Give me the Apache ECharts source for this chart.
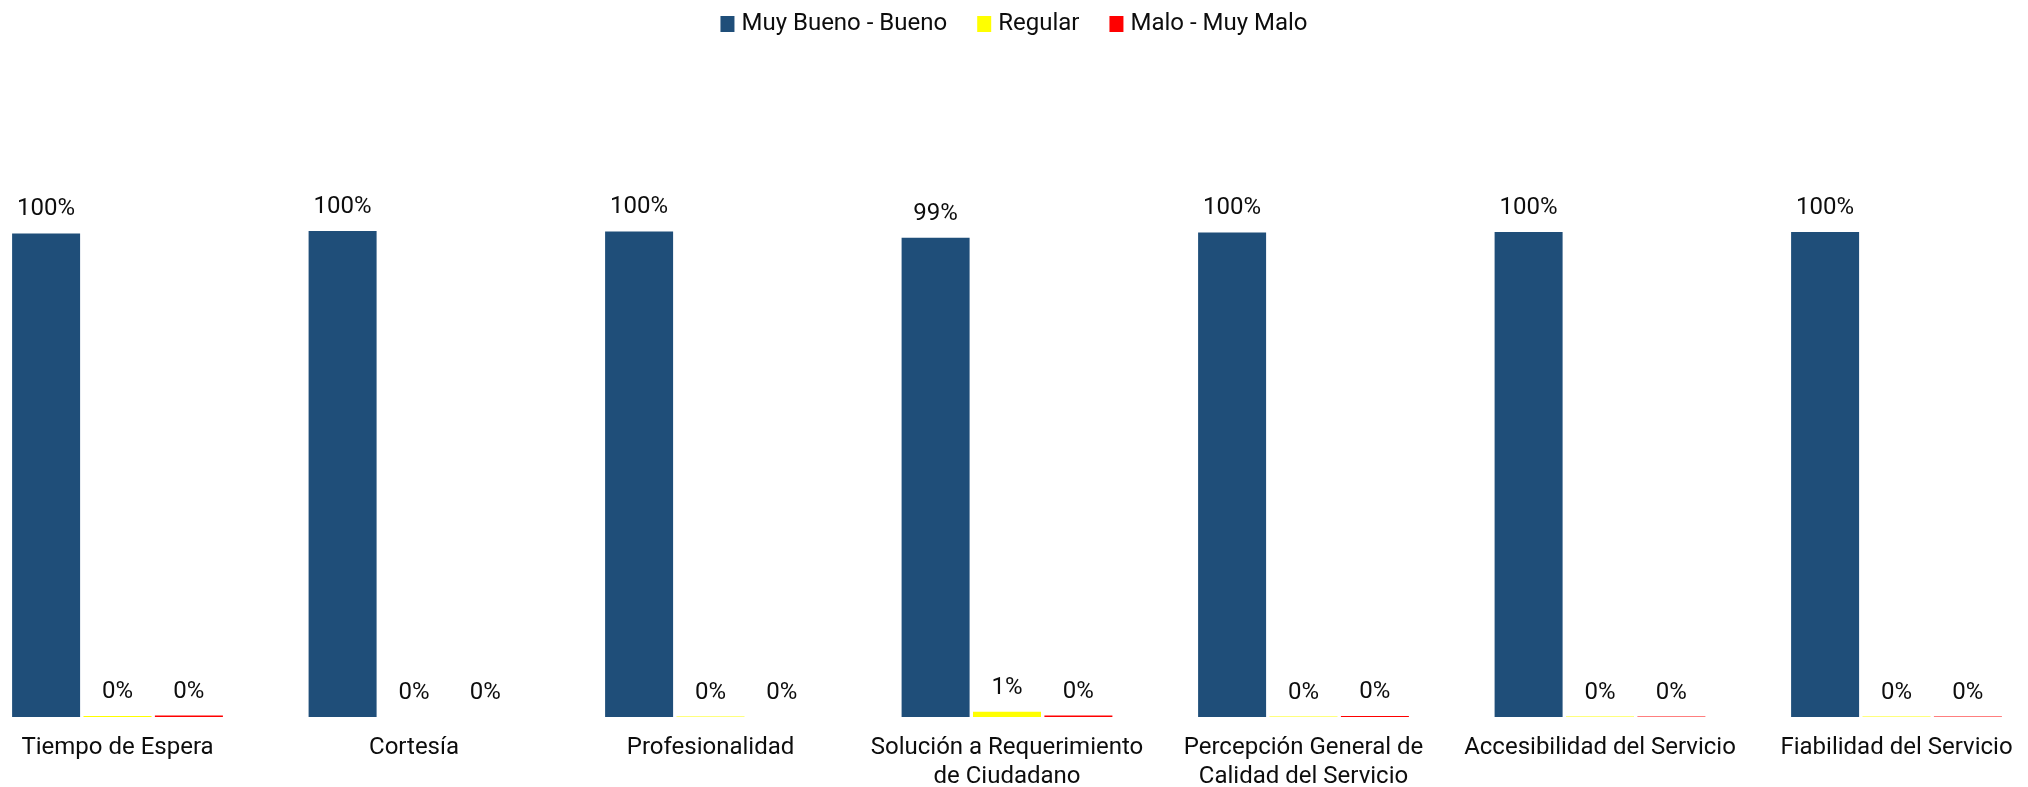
<!DOCTYPE html>
<html>
<head>
<meta charset="utf-8">
<title>Percepción del Servicio</title>
<script src="https://cdn.jsdelivr.net/npm/echarts@6/dist/echarts.min.js"></script>
<style>
  html, body { margin: 0; padding: 0; background: #fff; }
  #chart { width: 2028px; height: 787px; }
</style>
</head>
<body>
<div id="chart"></div>
<script>
// categories (explicit line breaks as in the source chart)
var categories = [
  "Tiempo de Espera",
  "Cortesía",
  "Profesionalidad",
  "Solución a Requerimiento\nde Ciudadano",
  "Percepción General de\nCalidad del Servicio",
  "Accesibilidad del Servicio",
  "Fiabilidad del Servicio"
];

// percentages
var muyBuenoBueno = [99.5, 100, 99.9, 98.6, 99.7, 99.8, 99.8];
var regular       = [0.2, 0, 0.1, 1.1, 0.1, 0.1, 0.1];
var maloMuyMalo   = [0.3, 0, 0, 0.3, 0.2, 0.1, 0.1];

var seriesNames = ["Muy Bueno - Bueno", "Regular", "Malo - Muy Malo"];
var seriesColors = ["#1f4e79", "#ffff00", "#ff0000"];

var chart = echarts.init(document.getElementById("chart"));

function makeSeries(name, values, color) {
  return {
    name: name,
    type: "bar",
    data: values,
    barWidth: 68,
    barGap: "5%",
    itemStyle: { color: color },
    label: {
      show: true,
      position: "top",
      distance: 12,
      color: "#0d0d0d",
      fontFamily: "Roboto",
      fontSize: 24,
      formatter: function (p) {
        return Math.round(p.value) + "%";
      }
    },
    animation: false
  };
}

chart.setOption({
  backgroundColor: "#ffffff",
  textStyle: { fontFamily: "Roboto" },
  legend: {
    top: 7,
    left: "center",
    itemWidth: 14,
    itemHeight: 16,
    itemGap: 30,
    icon: "rect",
    textStyle: { fontSize: 24, color: "#0d0d0d", fontFamily: "Roboto", padding: [0, 0, 0, 2] },
    data: seriesNames
  },
  grid: {
    left: -30.75,
    right: -16.75,
    top: 231,
    bottom: 70,
    containLabel: false,
    outerBoundsMode: "none"
  },
  xAxis: {
    type: "category",
    data: categories,
    axisLine: { show: false },
    axisTick: { show: false },
    axisLabel: {
      interval: 0,
      margin: 16,
      fontSize: 24,
      lineHeight: 29,
      color: "#0d0d0d",
      fontFamily: "Roboto"
    }
  },
  yAxis: {
    type: "value",
    min: 0,
    max: 100,
    show: false,
    splitLine: { show: false }
  },
  series: [
    makeSeries(seriesNames[0], muyBuenoBueno, seriesColors[0]),
    makeSeries(seriesNames[1], regular, seriesColors[1]),
    makeSeries(seriesNames[2], maloMuyMalo, seriesColors[2])
  ]
});
</script>
</body>
</html>
